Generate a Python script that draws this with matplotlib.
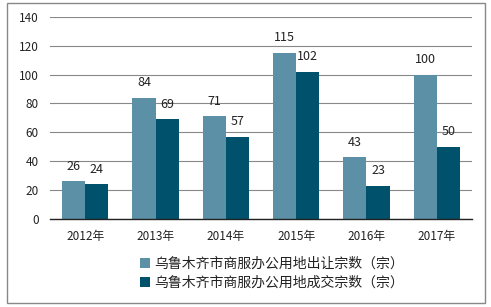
import numpy as np
import matplotlib
matplotlib.use("Agg")
import matplotlib.pyplot as plt
from matplotlib.patches import Rectangle

plt.rcParams['font.family'] = ['Noto Sans CJK SC', 'DejaVu Sans']

years = ["2012年", "2013年", "2014年", "2015年", "2016年", "2017年"]
transfer = [26, 84, 71, 115, 43, 100]
deals = [24, 69, 57, 102, 23, 50]
labels = ["乌鲁木齐市商服办公用地出让宗数（宗）", "乌鲁木齐市商服办公用地成交宗数（宗）"]
colors = ["#5B90A7", "#00516B"]

fig = plt.figure(figsize=(4.91, 3.07), dpi=100)
ax = fig.add_axes([0.102, 0.2866, 0.859, 0.659])

x = np.arange(len(years))
w = 0.33
b1 = ax.bar(x - w / 2, transfer, w, color=colors[0], label=labels[0], zorder=2)
b2 = ax.bar(x + w / 2, deals, w, color=colors[1], label=labels[1], zorder=2)
for bars in (b1, b2):
    for r in bars:
        ax.annotate(f"{r.get_height():g}", (r.get_x() + r.get_width() / 2, r.get_height()),
                    xytext=(0, 6), textcoords="offset points", ha="center", va="bottom",
                    fontsize=9, color="#222222")

ax.set_xlim(-0.5, len(years) - 0.5)
ax.set_ylim(0, 140)
ax.set_yticks(range(0, 141, 20))
ax.set_xticks(x)
ax.set_xticklabels(years)
ax.tick_params(axis="both", length=0, labelsize=8.5, colors="#222222")
ax.tick_params(axis="y", pad=8)
ax.tick_params(axis="x", pad=8)
ax.grid(axis="y", color="#888888", lw=0.8, zorder=0)
for s in ("top", "right", "left"):
    ax.spines[s].set_visible(False)
ax.spines["bottom"].set_color("#222222")
ax.spines["bottom"].set_linewidth(1.0)

fig.legend(loc="upper left", bbox_to_anchor=(0.272, 0.185), frameon=False,
           fontsize=10, handlelength=0.7, handleheight=0.7, handletextpad=0.3,
           labelspacing=0.35, borderpad=0, labelcolor="#222222")

fig.patches.append(Rectangle((0.014, 0.013), 0.974, 0.977, transform=fig.transFigure,
                             fill=False, edgecolor="#888888", lw=1.0))

fig.savefig("out.png", dpi=100)
